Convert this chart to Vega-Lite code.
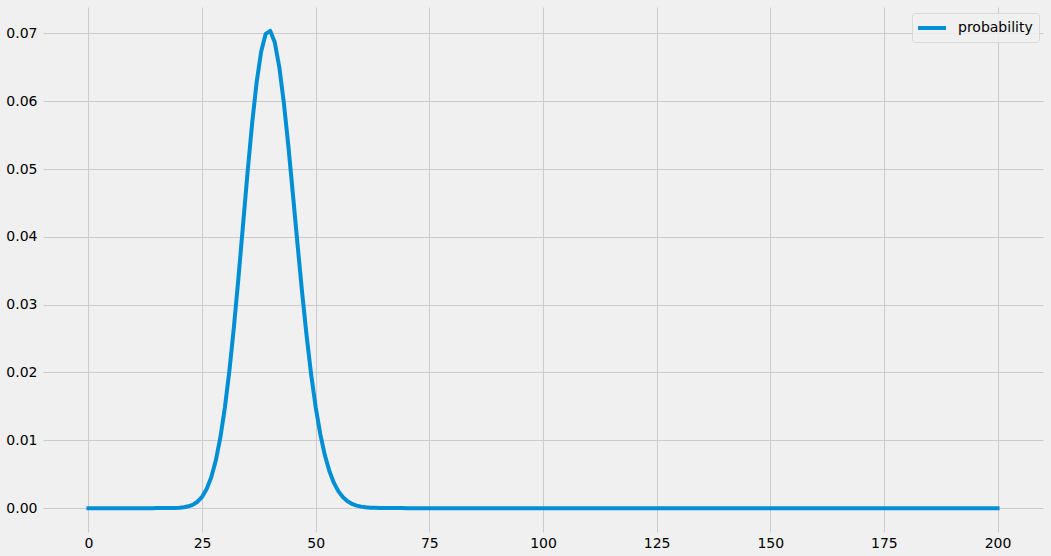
{
  "$schema": "https://vega.github.io/schema/vega-lite/v6.json",
  "width": 1000,
  "height": 525,
  "autosize": {"type": "none"},
  "padding": {"left": 43, "top": 7, "right": 8, "bottom": 24},
  "background": "#f0f0f0",
  "config": {
    "view": {"stroke": null, "fill": "#f0f0f0"},
    "font": "DejaVu Sans",
    "axis": {
      "domain": false,
      "ticks": false,
      "grid": true,
      "gridColor": "#cbcbcb",
      "gridWidth": 1,
      "labelFont": "DejaVu Sans",
      "labelFontSize": 14,
      "labelColor": "#000000",
      "title": null
    }
  },
  "data": {
    "values": [
      {"k":0,"p":0},{"k":1,"p":0},{"k":2,"p":0},{"k":3,"p":0},{"k":4,"p":0},{"k":5,"p":0},{"k":6,"p":0},{"k":7,"p":0},{"k":8,"p":0},{"k":9,"p":0},
      {"k":10,"p":0},{"k":11,"p":0},{"k":12,"p":0},{"k":13,"p":0},{"k":14,"p":0},{"k":15,"p":0.0000006},{"k":16,"p":0.0000016},{"k":17,"p":0.0000044},{"k":18,"p":0.0000113},{"k":19,"p":0.000027},
      {"k":20,"p":0.000061},{"k":21,"p":0.000131},{"k":22,"p":0.000266},{"k":23,"p":0.000514},{"k":24,"p":0.000947},{"k":25,"p":0.001667},{"k":26,"p":0.002805},{"k":27,"p":0.004519},{"k":28,"p":0.00698},{"k":29,"p":0.01035},
      {"k":30,"p":0.01475},{"k":31,"p":0.02022},{"k":32,"p":0.02669},{"k":33,"p":0.03397},{"k":34,"p":0.04171},{"k":35,"p":0.04946},{"k":36,"p":0.05667},{"k":37,"p":0.0628},{"k":38,"p":0.06734},{"k":39,"p":0.06993},
      {"k":40,"p":0.07037},{"k":41,"p":0.06865},{"k":42,"p":0.06497},{"k":43,"p":0.05968},{"k":44,"p":0.05324},{"k":45,"p":0.04614},{"k":46,"p":0.03887},{"k":47,"p":0.03184},{"k":48,"p":0.02537},{"k":49,"p":0.01968},
      {"k":50,"p":0.01486},{"k":51,"p":0.01092},{"k":52,"p":0.007826},{"k":53,"p":0.005463},{"k":54,"p":0.003718},{"k":55,"p":0.002467},{"k":56,"p":0.001597},{"k":57,"p":0.001009},{"k":58,"p":0.000622},{"k":59,"p":0.000374},
      {"k":60,"p":0.00022},{"k":61,"p":0.000126},{"k":62,"p":0.0000707},{"k":63,"p":0.0000387},{"k":64,"p":0.0000207},{"k":65,"p":0.0000108},{"k":66,"p":0.0000055},{"k":67,"p":0.0000028},{"k":68,"p":0.0000014},{"k":69,"p":0.0000007},
      {"k":70,"p":0.0000003},{"k":71,"p":0},{"k":72,"p":0},{"k":73,"p":0},{"k":74,"p":0},{"k":75,"p":0},{"k":76,"p":0},{"k":77,"p":0},{"k":78,"p":0},{"k":79,"p":0},
      {"k":80,"p":0},{"k":81,"p":0},{"k":82,"p":0},{"k":83,"p":0},{"k":84,"p":0},{"k":85,"p":0},{"k":86,"p":0},{"k":87,"p":0},{"k":88,"p":0},{"k":89,"p":0},
      {"k":90,"p":0},{"k":91,"p":0},{"k":92,"p":0},{"k":93,"p":0},{"k":94,"p":0},{"k":95,"p":0},{"k":96,"p":0},{"k":97,"p":0},{"k":98,"p":0},{"k":99,"p":0},
      {"k":100,"p":0},{"k":101,"p":0},{"k":102,"p":0},{"k":103,"p":0},{"k":104,"p":0},{"k":105,"p":0},{"k":106,"p":0},{"k":107,"p":0},{"k":108,"p":0},{"k":109,"p":0},
      {"k":110,"p":0},{"k":111,"p":0},{"k":112,"p":0},{"k":113,"p":0},{"k":114,"p":0},{"k":115,"p":0},{"k":116,"p":0},{"k":117,"p":0},{"k":118,"p":0},{"k":119,"p":0},
      {"k":120,"p":0},{"k":121,"p":0},{"k":122,"p":0},{"k":123,"p":0},{"k":124,"p":0},{"k":125,"p":0},{"k":126,"p":0},{"k":127,"p":0},{"k":128,"p":0},{"k":129,"p":0},
      {"k":130,"p":0},{"k":131,"p":0},{"k":132,"p":0},{"k":133,"p":0},{"k":134,"p":0},{"k":135,"p":0},{"k":136,"p":0},{"k":137,"p":0},{"k":138,"p":0},{"k":139,"p":0},
      {"k":140,"p":0},{"k":141,"p":0},{"k":142,"p":0},{"k":143,"p":0},{"k":144,"p":0},{"k":145,"p":0},{"k":146,"p":0},{"k":147,"p":0},{"k":148,"p":0},{"k":149,"p":0},
      {"k":150,"p":0},{"k":151,"p":0},{"k":152,"p":0},{"k":153,"p":0},{"k":154,"p":0},{"k":155,"p":0},{"k":156,"p":0},{"k":157,"p":0},{"k":158,"p":0},{"k":159,"p":0},
      {"k":160,"p":0},{"k":161,"p":0},{"k":162,"p":0},{"k":163,"p":0},{"k":164,"p":0},{"k":165,"p":0},{"k":166,"p":0},{"k":167,"p":0},{"k":168,"p":0},{"k":169,"p":0},
      {"k":170,"p":0},{"k":171,"p":0},{"k":172,"p":0},{"k":173,"p":0},{"k":174,"p":0},{"k":175,"p":0},{"k":176,"p":0},{"k":177,"p":0},{"k":178,"p":0},{"k":179,"p":0},
      {"k":180,"p":0},{"k":181,"p":0},{"k":182,"p":0},{"k":183,"p":0},{"k":184,"p":0},{"k":185,"p":0},{"k":186,"p":0},{"k":187,"p":0},{"k":188,"p":0},{"k":189,"p":0},
      {"k":190,"p":0},{"k":191,"p":0},{"k":192,"p":0},{"k":193,"p":0},{"k":194,"p":0},{"k":195,"p":0},{"k":196,"p":0},{"k":197,"p":0},{"k":198,"p":0},{"k":199,"p":0},
      {"k":200,"p":0}
    ]
  },
  "mark": {"type": "line", "strokeWidth": 4, "strokeCap": "square", "strokeJoin": "round", "clip": false},
  "encoding": {
    "x": {
      "field": "k",
      "type": "quantitative",
      "scale": {"domain": [-10, 210], "nice": false, "zero": false},
      "axis": {"values": [0, 25, 50, 75, 100, 125, 150, 175, 200], "labelPadding": 4, "format": "d"}
    },
    "y": {
      "field": "p",
      "type": "quantitative",
      "scale": {"domain": [-0.00352, 0.07389], "nice": false, "zero": false},
      "axis": {"values": [0, 0.01, 0.02, 0.03, 0.04, 0.05, 0.06, 0.07], "format": ".2f", "labelPadding": 6}
    },
    "color": {
      "datum": "probability",
      "type": "nominal",
      "scale": {"range": ["#008fd5"]},
      "legend": {
        "title": null,
        "orient": "none",
        "legendX": 869,
        "legendY": 6,
        "symbolType": "M-1.2857,0H2.7143",
        "symbolStrokeWidth": 4,
        "symbolSize": 196,
        "labelFont": "DejaVu Sans",
        "labelFontSize": 14,
        "labelColor": "#000000",
        "labelOffset": 22,
        "fillColor": "rgba(240,240,240,0.8)",
        "strokeColor": "#d8d8d8",
        "cornerRadius": 3,
        "padding": 6
      }
    }
  }
}
